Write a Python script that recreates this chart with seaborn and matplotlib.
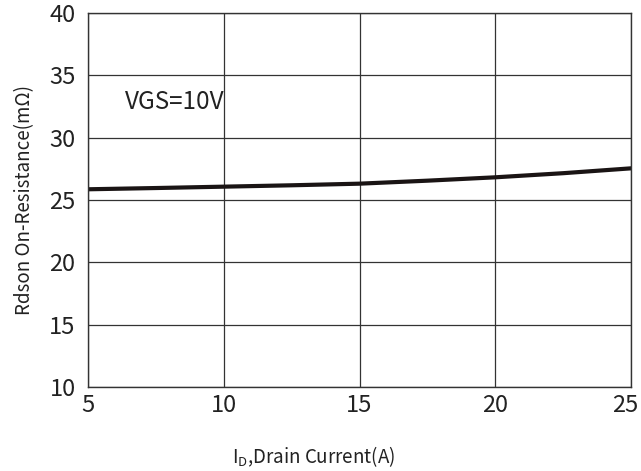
import numpy as np
import pandas as pd
import matplotlib
matplotlib.use('Agg')
import matplotlib.pyplot as plt
import matplotlib.transforms as mtransforms
import seaborn as sns

sns.set_style('white')
plt.rcParams['font.family'] = ['Noto Sans CJK SC', 'DejaVu Sans']
plt.rcParams['font.weight'] = 'light'
plt.rcParams['mathtext.fontset'] = 'custom'
plt.rcParams['mathtext.rm'] = 'Noto Sans CJK SC'

# 数据：导通电阻 vs 漏极电流 (VGS=10V)
drain_current = [5, 7.5, 10, 12.5, 15, 17.5, 20, 22.5, 25]
rdson = [25.86, 25.96, 26.07, 26.18, 26.31, 26.55, 26.82, 27.15, 27.54]
x_ticks = [5, 10, 15, 20, 25]
y_ticks = [10, 15, 20, 25, 30, 35, 40]

df = pd.DataFrame({'id': drain_current, 'rds': rdson})

fig = plt.figure(figsize=(6.41, 4.71), dpi=100)
ax = fig.add_axes([88 / 641, 84 / 471, 543 / 641, 374 / 471])

sns.lineplot(x='id', y='rds', data=df, ax=ax, color='#1a1414', linewidth=3)

ax.set_xlim(5, 25)
ax.set_ylim(10, 40)
ax.set_xticks(x_ticks)
ax.set_yticks(y_ticks)
ax.grid(True, color='#333333', linewidth=0.9)
for s in ax.spines.values():
    s.set_color('#333333')
    s.set_linewidth(1)
ax.tick_params(axis='both', length=0, labelsize=17, colors='#222222')
ax.tick_params(axis='x', pad=5)
ax.tick_params(axis='y', pad=9)
ax.set_xlabel('')
ax.set_ylabel('Rdson On-Resistance(mΩ)', fontsize=13.5, color='#222222', labelpad=10)

# 最后一个刻度标签稍微左移，避免被裁掉
last = ax.get_xticklabels()[-1]
last.set_transform(last.get_transform() + mtransforms.ScaledTranslation(-6 / 100, 0, fig.dpi_scale_trans))

ax.text(6.36, 32.9, 'VGS=10V', fontsize=17.5, color='#222222', va='center', ha='left')

fig.text(314 / 641, 1 - 457 / 471, 'I$_{\\rm D}$,Drain Current(A)', fontsize=13.5,
         color='#222222', ha='center', va='center')

plt.savefig('out.png', dpi=100)
